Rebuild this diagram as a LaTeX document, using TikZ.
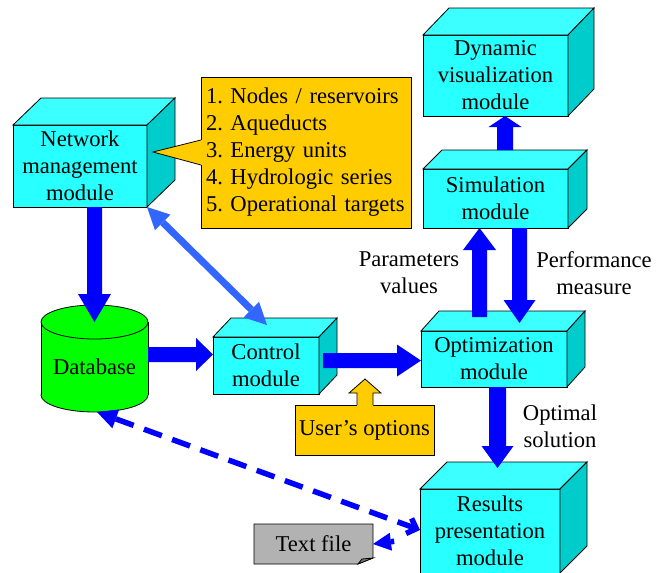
\documentclass[tikz,border=0pt]{standalone}
\usepackage{fontspec}
\setmainfont{Liberation Serif}
\usetikzlibrary{calc,arrows.meta}
\pgfdeclarelayer{bg}
\pgfsetlayers{bg,main}
\frenchspacing

\definecolor{cubefront}{RGB}{40,255,255}
\definecolor{cubetop}{RGB}{60,255,255}
\definecolor{cubeside}{RGB}{0,204,204}
\definecolor{arrowblue}{RGB}{0,0,255}
\definecolor{lightblue}{RGB}{51,102,255}
\definecolor{calloutyellow}{RGB}{255,204,0}
\definecolor{dbgreen}{RGB}{0,255,0}
\definecolor{filegray}{RGB}{178,178,178}
\definecolor{foldgray}{RGB}{120,120,120}

\tikzset{
  outl/.style={draw=black, line width=0.8pt},
  cube/.style={outl, fill=cubefront, align=center},
  callout/.style={outl, fill=calloutyellow},
  dashline/.style={draw=arrowblue, line width=5.5pt, dash pattern=on 19pt off 11pt},
  lightarrow/.style={draw=lightblue, line width=7pt},
}

% top and right faces of a box drawn behind its front node
\newcommand\cubefaces[3]{%
  \filldraw[outl, fill=cubetop] (#1.north west) -- ++(#2,-#3) -- ($(#1.north east)+(#2,-#3)$) -- (#1.north east) -- cycle;
  \filldraw[outl, fill=cubeside] (#1.north east) -- ++(#2,-#3) -- ($(#1.south east)+(#2,-#3)$) -- (#1.south east) -- cycle;
}

% wide block arrow: start, tip, half shaft width, half head width, head length
\newcommand\blockarrow[5]{%
  \coordinate (bahead) at ($(#2)!#5!(#1)$);
  \fill[arrowblue] ($(#1)!#3!90:(#2)$) -- ($(bahead)!#3!90:(#2)$) -- ($(bahead)!#4!90:(#2)$)
    -- (#2) -- ($(bahead)!#4!-90:(#2)$) -- ($(bahead)!#3!-90:(#2)$) -- ($(#1)!#3!-90:(#2)$) -- cycle;
}

\begin{document}
\begin{tikzpicture}[x=1pt, y=-1pt, line join=miter,
  font=\fontsize{22.6pt}{27pt}\selectfont, inner sep=0pt, outer sep=0pt]
\useasboundingbox (0,0) rectangle (657,573);

% modules
\node[cube, minimum width=134pt, minimum height=82pt] (net) at (80,166) {Network\\management\\module};
\cubefaces{net}{28}{27}
\node[cube, minimum width=145pt, minimum height=81pt] (dyn) at (495.5,75.5) {Dynamic\\visualization\\module};
\cubefaces{dyn}{26}{27}
\node[cube, minimum width=145pt, minimum height=59pt] (sim) at (495.5,198.5) {Simulation\\module};
\cubefaces{sim}{19}{19}
\node[cube, minimum width=106pt, minimum height=57pt] (ctl) at (266,365.5) {Control\\module};
\cubefaces{ctl}{18}{19}
\node[cube, minimum width=146pt, minimum height=56pt] (opt) at (494,359) {Optimization\\module};
\cubefaces{opt}{18}{20}
\node[cube, minimum width=140pt, minimum height=84pt] (res) at (490,531) {Results\\presentation\\module};
\cubefaces{res}{27}{27}

% database cylinder
\node[minimum width=107pt, minimum height=73pt] (db) at (94.5,358.5) {\raisebox{-16pt}[0pt][0pt]{Database}};
\begin{pgfonlayer}{bg}
  \filldraw[outl, fill=dbgreen] (db.south) ellipse [x radius=53.5pt, y radius=17pt];
  \fill[dbgreen] (db.south west) rectangle (db.north east);
  \draw[outl] (db.south west) -- (db.north west) (db.south east) -- (db.north east);
  \filldraw[outl, fill=dbgreen] (db.north) ellipse [x radius=53.5pt, y radius=17pt];
\end{pgfonlayer}

% list of network elements with its pointer
\node[callout, text width=200pt, align=left, inner xsep=5pt, minimum height=151pt] (list) at (306,152.5)
  {1. Nodes / reservoirs\\2. Aqueducts\\3. Energy units\\4. Hydrologic series\\5. Operational targets};
\coordinate (ctip) at ($(net.east)+(6,-14)$);
\fill[calloutyellow] (ctip) -- ($(list.west)+(1.2,-12.5)$) -- ($(list.west)+(1.2,12.5)$) -- cycle;
\draw[outl] ($(list.west)+(0,-12.5)$) -- (ctip) -- ($(list.west)+(0,12.5)$);

% user's options with its up arrow
\node[callout, minimum width=139pt, minimum height=50pt] (uo) at (364.5,430) {User’s options};
\coordinate (uotip) at ($(uo.north)+(0.5,-26)$);
\fill[calloutyellow] ($(uo.north)+(-7.5,1.2)$) -- ($(uo.north)+(-7.5,-12)$) -- ($(uo.north)+(-15.5,-12)$) -- (uotip)
  -- ($(uo.north)+(16.5,-12)$) -- ($(uo.north)+(8.5,-12)$) -- ($(uo.north)+(8.5,1.2)$) -- cycle;
\draw[outl] ($(uo.north)+(-7.5,0)$) -- ($(uo.north)+(-7.5,-12)$) -- ($(uo.north)+(-15.5,-12)$) -- (uotip)
  -- ($(uo.north)+(16.5,-12)$) -- ($(uo.north)+(8.5,-12)$) -- ($(uo.north)+(8.5,0)$);

% text file document
\node[minimum width=119pt, minimum height=40pt] (tf) at (313.5,544) {Text file};
\begin{pgfonlayer}{bg}
  \filldraw[outl, fill=filegray] (tf.north west) -- (tf.north east) -- ($(tf.south east)+(0,-6)$)
    -- ($(tf.south east)+(-15,0)$) -- (tf.south west) -- cycle;
  \filldraw[outl, fill=foldgray] ($(tf.south east)+(0,-6)$) -- ($(tf.south east)+(-15,0)$)
    -- ($(tf.south east)+(-11,-5)$) -- cycle;
\end{pgfonlayer}

% block arrows
\coordinate (a1) at (net.south -| db.north);
\blockarrow{a1}{db.north}{7.5pt}{16.5pt}{28pt}
\coordinate (a2) at ($(db.east)+(0,-4)$);
\coordinate (b2) at (ctl.west |- a2);
\blockarrow{a2}{b2}{7.5pt}{16.5pt}{17pt}
\coordinate (a3) at ($(ctl.east)+(4,-5)$);
\coordinate (b3) at (opt.west |- a3);
\blockarrow{a3}{b3}{7.5pt}{16pt}{24pt}
\coordinate (a4) at ($(opt.south)+(3.5,0)$);
\coordinate (b4) at ($(a4 |- res.north)+(0,-21)$);
\blockarrow{a4}{b4}{8.5pt}{16pt}{22pt}
\coordinate (a5) at ($(sim.north)+(9.5,-19)$);
\coordinate (b5) at (a5 |- dyn.south);
\blockarrow{a5}{b5}{8pt}{16.5pt}{11pt}
\coordinate (a6) at ($(opt.north)+(-14.5,-14)$);
\coordinate (b6) at (a6 |- sim.south);
\blockarrow{a6}{b6}{7.5pt}{16.5pt}{22pt}
\coordinate (a7) at ($(sim.south)+(24,0)$);
\coordinate (b7) at ($(a7 |- opt.north)+(0,-8)$);
\blockarrow{a7}{b7}{7.5pt}{16pt}{23pt}

% two-way link between network management and control
\draw[lightarrow, {Triangle[length=22pt,width=22pt,line width=0pt]}-{Triangle[length=22pt,width=22pt,line width=0pt]}]
  (net.south east) -- ($(ctl.north)+(1,-12)$);

% dashed data links
\draw[dashline, {Triangle[length=20pt,width=20pt,line width=0pt]}-{Straight Barb[length=8pt,width=16pt]}]
  ($(db.south)+(2.5,17)$) -- ($(res.west)+(0,-1)$);
\draw[dashline, shorten <=26pt, -{Triangle[length=18pt,width=18pt,line width=0pt]}]
  ($(res.west)+(0,7)$) -- (tf.east);

% arrow labels
\node[align=center] (plab) at (409,273) {Parameters\\values};
\node[align=center] (pmlab) at (594,273) {Performance\\measure};
\node[align=center] (oslab) at (560,426.5) {Optimal\\solution};
\end{tikzpicture}
\end{document}
